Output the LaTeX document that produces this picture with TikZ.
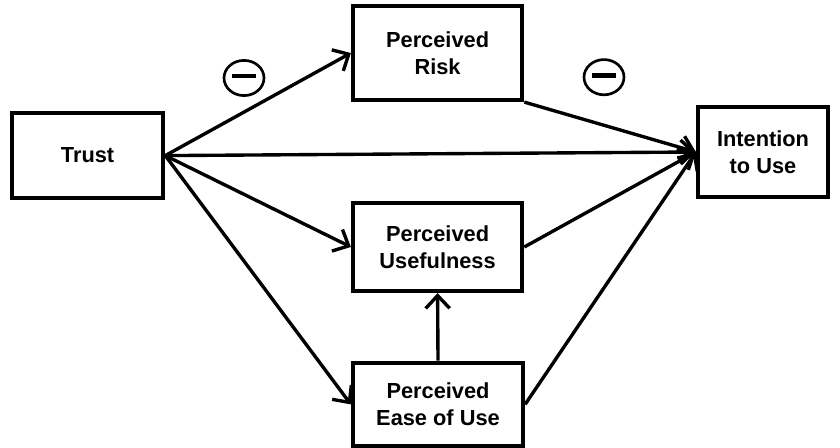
\documentclass[tikz,border=0pt]{standalone}
\usepackage{fontspec}
\setmainfont{Liberation Sans}
\usepackage{tikz}
\usetikzlibrary{positioning,shapes,arrows.meta,calc}
\tikzset{%
	block/.style    = {draw, rectangle, line width=3pt, align=center,
		font=\bfseries\fontsize{15.5}{19}\selectfont},
	minus/.style    = {draw, ellipse, line width=1.9pt, inner sep=0pt,
		minimum width=1.0cm, minimum height=0.88cm}
}

\begin{document}
\begin{tikzpicture}[line width=2.4pt,
	>={Straight Barb[length=3.2mm,width=6mm]}]
	\useasboundingbox (0,0) rectangle (21,11.2);
	\draw
	node at (2.19,7.31)[block, minimum width=3.78cm, minimum height=2.13cm] (trust) {Trust}
	node at (10.94,9.875)[block, minimum width=4.23cm, minimum height=2.35cm] (risk) {Perceived\\Risk}
	node at (10.94,5.025)[block, minimum width=4.23cm, minimum height=2.2cm] (useful) {Perceived\\Usefulness}
	node at (10.95,1.09)[block, minimum width=4.25cm, minimum height=2.08cm] (ease) {Perceived\\Ease of Use}
	node at (19.075,7.4)[block, minimum width=3.25cm, minimum height=2.25cm] (intent) {Intention\\to Use};
	
	% negative signs
	\node[minus] (neg1) at (6.1,9.25) {\rule[0.55ex]{0.62cm}{0.12cm}};
	\node[minus] (neg2) at (15.1,9.27) {\rule[0.55ex]{0.62cm}{0.12cm}};
	
	\draw[->](trust.east) -- (risk.west);
	\draw[->](trust.east) -- (intent.west);
	\draw[->](trust.east) -- (useful.west);
	\draw[->](trust.east) -- (ease.west);
	\draw[->](risk.south east) -- (intent.west);
	\draw[->](useful.east) -- (intent.west);
	\draw[->](ease.east) -- (intent.west);
	\draw[->](ease.north) -- (useful.south);
	
\end{tikzpicture}
\end{document}
